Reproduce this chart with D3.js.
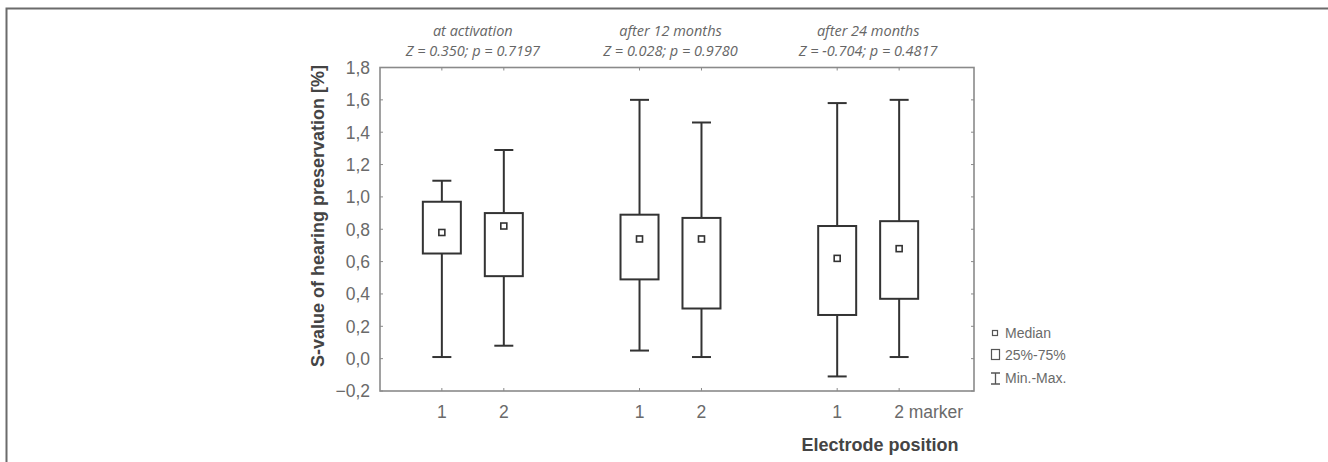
<!DOCTYPE html>
<html>
<head>
<meta charset="utf-8">
<script src="https://cdn.jsdelivr.net/npm/d3@7"></script>
<style>
  body { margin: 0; background: #fff; }
  svg { display: block; }
  .tick-label { font-family: "Liberation Sans", Arial, sans-serif; font-size: 17.5px; fill: #6a6a6a; }
  .axis-title { font-family: "Liberation Sans", Arial, sans-serif; font-size: 18px; font-weight: bold; fill: #444; }
  .group-title { font-family: "Open Sans", sans-serif; font-style: italic; font-size: 14.5px; fill: #666; }
  .legend-text { font-family: "Liberation Sans", Arial, sans-serif; font-size: 14px; fill: #6a6a6a; }
</style>
</head>
<body>
<div id="chart"></div>
<script>
var svgWidth = 1328;
var svgHeight = 462;

// plot frame
var plot = { left: 380, right: 974, top: 67.5, bottom: 391 };

// groups and their test statistics
var groups = ["at activation", "after 12 months", "after 24 months"];
var groupStats = ["Z = 0.350; p = 0.7197", "Z = 0.028; p = 0.9780", "Z = -0.704; p = 0.4817"];
var positions = ["1", "2"];
var tickLabels = ["1", "2", "1", "2", "1", "2 marker"];

// box values, one per group x position
var boxGroup = [0, 0, 1, 1, 2, 2];
var boxPos   = ["1", "2", "1", "2", "1", "2"];
var minVals  = [0.01, 0.08, 0.05, 0.01, -0.11, 0.01];
var q1Vals   = [0.65, 0.51, 0.49, 0.31, 0.27, 0.37];
var medVals  = [0.78, 0.82, 0.74, 0.74, 0.62, 0.68];
var q3Vals   = [0.97, 0.90, 0.89, 0.87, 0.82, 0.85];
var maxVals  = [1.10, 1.29, 1.60, 1.46, 1.58, 1.60];

var yTicks = [-0.2, 0, 0.2, 0.4, 0.6, 0.8, 1.0, 1.2, 1.4, 1.6, 1.8];

var boxWidth = 38;
var capWidth = 19;
var stroke = "#333";

var svg = d3.select("#chart")
  .append("svg")
  .attr("width", svgWidth)
  .attr("height", svgHeight);

// outer figure frame (top and left edges)
svg.append("path")
  .attr("d", "M6.5,462 L6.5,8.5 L1328,8.5")
  .attr("fill", "none")
  .attr("stroke", "#6b6b6b")
  .attr("stroke-width", 2);

var yScale = d3.scaleLinear()
  .domain([-0.2, 1.8])
  .range([plot.bottom, plot.top]);

var groupScale = d3.scaleBand()
  .domain(groups)
  .range([374, 967])
  .padding(0);

var posScale = d3.scalePoint()
  .domain(positions)
  .range([0, groupScale.bandwidth()])
  .padding(1.095);

function xOf(i) {
  return groupScale(groups[boxGroup[i]]) + posScale(boxPos[i]);
}

var fmt = function(v) { return d3.format(".1f")(v).replace(".", ","); };

// plot border
svg.append("rect")
  .attr("x", plot.left)
  .attr("y", plot.top)
  .attr("width", plot.right - plot.left)
  .attr("height", plot.bottom - plot.top)
  .attr("fill", "none")
  .attr("stroke", "#8a8a8a")
  .attr("stroke-width", 1.6);

// y axis ticks (inside) and labels
var yTickG = svg.append("g");
yTicks.forEach(function(t) {
  var y = yScale(t);
  yTickG.append("line")
    .attr("x1", plot.left).attr("x2", plot.left + 3)
    .attr("y1", y).attr("y2", y)
    .attr("stroke", "#8a8a8a");
  yTickG.append("line")
    .attr("x1", plot.right).attr("x2", plot.right - 3)
    .attr("y1", y).attr("y2", y)
    .attr("stroke", "#8a8a8a");
  yTickG.append("text")
    .attr("class", "tick-label")
    .attr("x", 370)
    .attr("y", y)
    .attr("dy", "0.36em")
    .attr("text-anchor", "end")
    .text(fmt(t));
});

// x ticks and labels
var xTickG = svg.append("g");
tickLabels.forEach(function(lbl, i) {
  var x = xOf(i);
  xTickG.append("line")
    .attr("x1", x).attr("x2", x)
    .attr("y1", plot.bottom).attr("y2", plot.bottom - 3)
    .attr("stroke", "#8a8a8a");
  xTickG.append("line")
    .attr("x1", x).attr("x2", x)
    .attr("y1", plot.top).attr("y2", plot.top + 3)
    .attr("stroke", "#8a8a8a");
  var t = xTickG.append("text")
    .attr("class", "tick-label")
    .attr("y", 418);
  if (lbl.indexOf(" ") > 0) {
    t.attr("x", x - 5).attr("text-anchor", "start").text(lbl);
  } else {
    t.attr("x", x).attr("text-anchor", "middle").text(lbl);
  }
});

// group titles
groups.forEach(function(g, i) {
  var cx = groupScale(g) + groupScale.bandwidth() / 2;
  svg.append("text")
    .attr("class", "group-title")
    .attr("x", cx).attr("y", 36)
    .attr("text-anchor", "middle")
    .text(g);
  svg.append("text")
    .attr("class", "group-title")
    .attr("x", cx).attr("y", 56)
    .attr("text-anchor", "middle")
    .text(groupStats[i]);
});

// axis titles
svg.append("text")
  .attr("class", "axis-title")
  .attr("transform", "translate(324, 216) rotate(-90)")
  .attr("text-anchor", "middle")
  .text("S-value of hearing preservation [%]");

svg.append("text")
  .attr("class", "axis-title")
  .attr("x", 880)
  .attr("y", 451)
  .attr("text-anchor", "middle")
  .text("Electrode position");

// boxes
var boxes = svg.selectAll("g.box")
  .data(d3.range(minVals.length))
  .enter()
  .append("g")
  .attr("class", "box");

boxes.append("line")
  .attr("x1", i => xOf(i)).attr("x2", i => xOf(i))
  .attr("y1", i => yScale(maxVals[i])).attr("y2", i => yScale(minVals[i]))
  .attr("stroke", stroke).attr("stroke-width", 2);

boxes.append("line")
  .attr("x1", i => xOf(i) - capWidth / 2).attr("x2", i => xOf(i) + capWidth / 2)
  .attr("y1", i => yScale(maxVals[i])).attr("y2", i => yScale(maxVals[i]))
  .attr("stroke", stroke).attr("stroke-width", 2);

boxes.append("line")
  .attr("x1", i => xOf(i) - capWidth / 2).attr("x2", i => xOf(i) + capWidth / 2)
  .attr("y1", i => yScale(minVals[i])).attr("y2", i => yScale(minVals[i]))
  .attr("stroke", stroke).attr("stroke-width", 2);

boxes.append("rect")
  .attr("x", i => xOf(i) - boxWidth / 2)
  .attr("y", i => yScale(q3Vals[i]))
  .attr("width", boxWidth)
  .attr("height", i => yScale(q1Vals[i]) - yScale(q3Vals[i]))
  .attr("fill", "#fff")
  .attr("stroke", stroke).attr("stroke-width", 2);

boxes.append("rect")
  .attr("x", i => xOf(i) - 3)
  .attr("y", i => yScale(medVals[i]) - 3)
  .attr("width", 6).attr("height", 6)
  .attr("fill", "#fff")
  .attr("stroke", stroke).attr("stroke-width", 1.6);

// legend
var lg = svg.append("g").attr("transform", "translate(995, 0)");
lg.append("rect")
  .attr("x", -2.5).attr("y", 330.5).attr("width", 5).attr("height", 5)
  .attr("fill", "#fff").attr("stroke", "#555").attr("stroke-width", 1.2);
lg.append("text").attr("class", "legend-text").attr("x", 10).attr("y", 338).text("Median");

lg.append("rect")
  .attr("x", -3.5).attr("y", 349.5).attr("width", 8).attr("height", 10)
  .attr("fill", "#fff").attr("stroke", "#555").attr("stroke-width", 1.2);
lg.append("text").attr("class", "legend-text").attr("x", 10).attr("y", 360).text("25%-75%");

lg.append("path")
  .attr("d", "M-4,373 H5 M0.5,373 V384 M-4,384 H5")
  .attr("fill", "none").attr("stroke", "#555").attr("stroke-width", 1.3);
lg.append("text").attr("class", "legend-text").attr("x", 10).attr("y", 383).text("Min.-Max.");
</script>
</body>
</html>
